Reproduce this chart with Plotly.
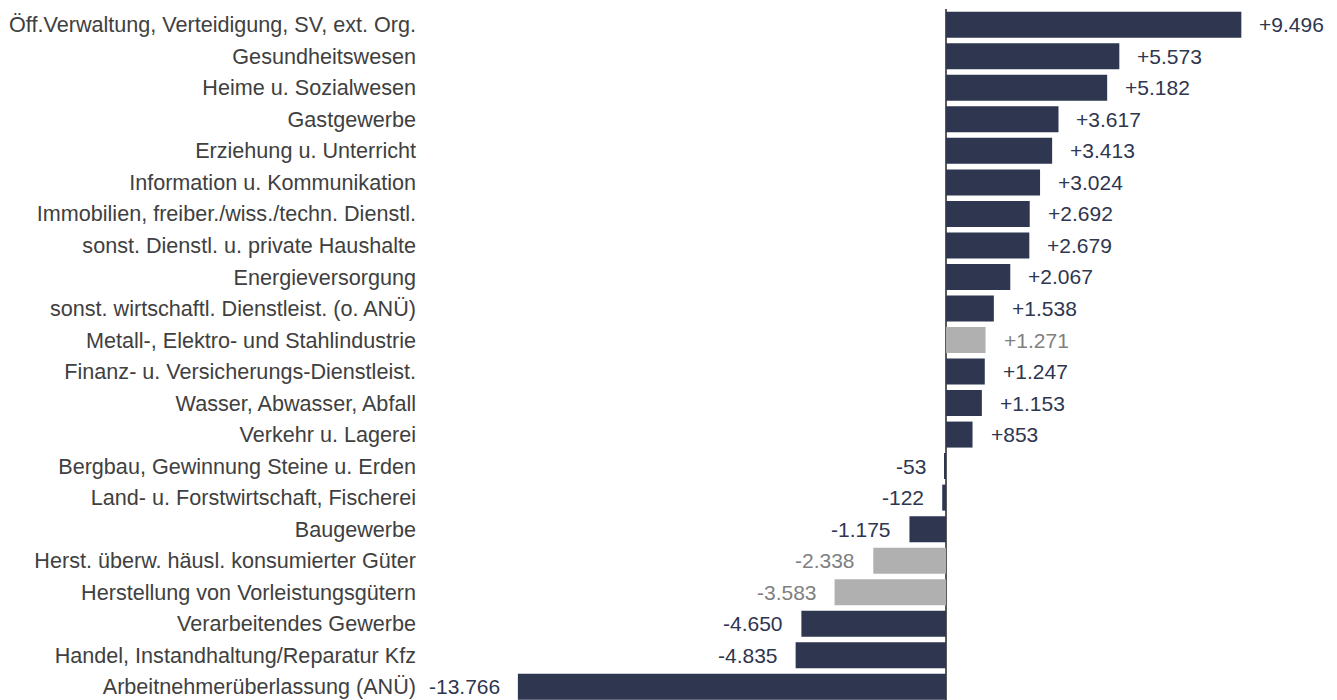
import plotly.graph_objects as go

categories = [
    "Öff.Verwaltung, Verteidigung, SV, ext. Org.",
    "Gesundheitswesen",
    "Heime u. Sozialwesen",
    "Gastgewerbe",
    "Erziehung u. Unterricht",
    "Information u. Kommunikation",
    "Immobilien, freiber./wiss./techn. Dienstl.",
    "sonst. Dienstl. u. private Haushalte",
    "Energieversorgung",
    "sonst. wirtschaftl. Dienstleist. (o. ANÜ)",
    "Metall-, Elektro- und Stahlindustrie",
    "Finanz- u. Versicherungs-Dienstleist.",
    "Wasser, Abwasser, Abfall",
    "Verkehr u. Lagerei",
    "Bergbau, Gewinnung Steine u. Erden",
    "Land- u. Forstwirtschaft, Fischerei",
    "Baugewerbe",
    "Herst. überw. häusl. konsumierter Güter",
    "Herstellung von Vorleistungsgütern",
    "Verarbeitendes Gewerbe",
    "Handel, Instandhaltung/Reparatur Kfz",
    "Arbeitnehmerüberlassung (ANÜ)",
]
values = [9496, 5573, 5182, 3617, 3413, 3024, 2692, 2679, 2067, 1538, 1271,
          1247, 1153, 853, -53, -122, -1175, -2338, -3583, -4650, -4835, -13766]
value_labels = ["+9.496", "+5.573", "+5.182", "+3.617", "+3.413", "+3.024",
                "+2.692", "+2.679", "+2.067", "+1.538", "+1.271", "+1.247",
                "+1.153", "+853", "-53", "-122", "-1.175", "-2.338", "-3.583",
                "-4.650", "-4.835", "-13.766"]
highlight = [False] * 10 + [True] + [False] * 6 + [True, True] + [False] * 3

NAVY = "#2e3650"
GRAY_BAR = "#b0b0b0"
GRAY_TXT = "#808080"
FONT = "Liberation Sans, Arial, sans-serif"

bar_colors = [GRAY_BAR if h else NAVY for h in highlight]
text_colors = [GRAY_TXT if h else NAVY for h in highlight]

fig = go.Figure()
fig.add_trace(go.Bar(
    y=categories, x=values, orientation="h",
    marker=dict(color=bar_colors, line=dict(width=0)),
    hoverinfo="skip",
))

for cat, v, lab, col in zip(categories, values, value_labels, text_colors):
    fig.add_annotation(
        x=v, y=cat, text=lab, showarrow=False,
        xanchor="left" if v >= 0 else "right",
        xshift=16 if v >= 0 else -16,
        font=dict(family=FONT, size=21, color=col),
    )

# page body has an 8px margin; figure sized so it fills the 1337x700 window
PLOT_L = 409
ZERO = 938
SCALE = 0.0311
W = 1329
xmin = -(ZERO - PLOT_L) / SCALE
xmax = (W - ZERO) / SCALE

fig.update_layout(
    width=W, height=692,
    margin=dict(l=PLOT_L, r=0, t=1, b=0),
    plot_bgcolor="white", paper_bgcolor="white",
    bargap=0.175,
    showlegend=False,
    font=dict(family=FONT, size=21, color="#404040"),
)
fig.update_xaxes(
    range=[xmin, xmax],
    showgrid=False, showticklabels=False, ticks="",
    zeroline=True, zerolinecolor="#5a5a5a", zerolinewidth=2,
    showline=False,
)
fig.update_yaxes(
    type="category", categoryorder="array", categoryarray=categories,
    range=[21.42, -0.5],
    showgrid=False, ticks="", showline=False, zeroline=False,
    tickfont=dict(family=FONT, size=21.6, color="#404040"),
)

fig.write_html("out.html")
